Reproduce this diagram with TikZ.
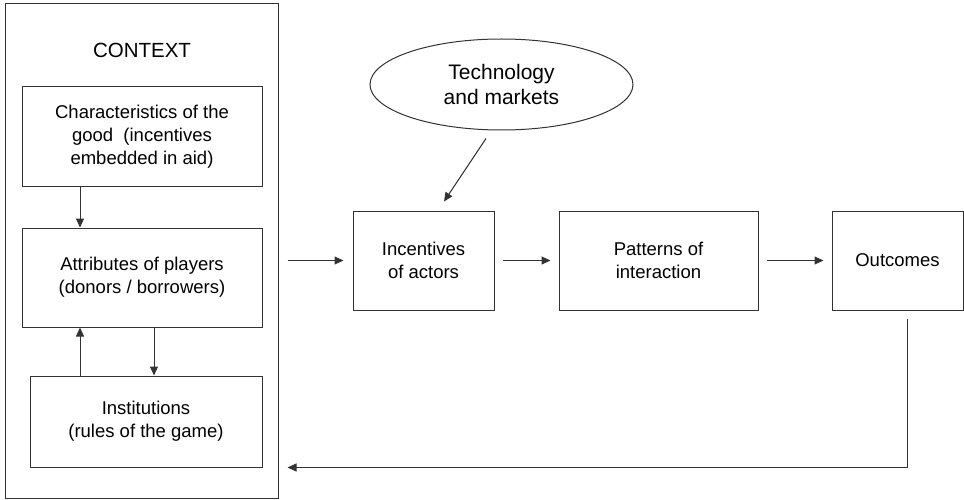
\documentclass[tikz,border=0pt]{standalone}
\usepackage{fontspec}
\setmainfont{Liberation Sans}
\usepackage{tikz}
\usetikzlibrary{arrows.meta,shapes.geometric}

\begin{document}
\begin{tikzpicture}[x=1pt, y=-1pt, line width=1pt, draw=black!80,
  box/.style={draw, rectangle, inner sep=0pt, align=center, font=\fontsize{18.5}{23}\selectfont},
  ->/.style={-{Triangle[length=9pt,width=8pt]}}]
  \useasboundingbox (0,0) rectangle (964,500);

  % left panel
  \node[draw, inner sep=0pt, minimum width=273, minimum height=494] (ctx) at (141.5,251) {};
  \node[font=\fontsize{20.5}{24}\selectfont] (ctxlbl) at (142,50) {CONTEXT};
  \node[box, minimum width=240, minimum height=99] (good) at (142,136.5)
    {Characteristics of the\\good\ \ (incentives\\embedded in aid)};
  \node[box, minimum width=240, minimum height=99] (players) at (142,277.5)
    {Attributes of players\\(donors / borrowers)};
  \node[box, minimum width=232, minimum height=91] (inst) at (146,421.5)
    {Institutions\\(rules of the game)};

  % main chain
  \node[box, ellipse, minimum width=263, minimum height=91, font=\fontsize{21}{25}\selectfont]
    (tech) at (501.5,84.5) {Technology\\and markets};
  \node[box, minimum width=141, minimum height=99] (incent) at (423.5,260.5)
    {Incentives\\of actors};
  \node[box, minimum width=199, minimum height=99] (patt) at (658.5,260.5)
    {Patterns of\\interaction};
  \node[box, minimum width=131, minimum height=99] (outc) at (897.5,260.5)
    {Outcomes};

  \draw[->] ([xshift=-62pt]good.south) -- ([xshift=-62pt]players.north);
  \draw[->] ([xshift=-66pt]inst.north) -- ([xshift=-62pt]players.south);
  \draw[->] ([xshift=12pt]players.south) -- ([xshift=8pt]inst.north);

  \draw[->, shorten <=9pt, shorten >=9pt] (ctx.east |- incent.west) -- (incent.west);
  \draw[->, shorten <=8pt, shorten >=8pt] (incent) -- (patt);
  \draw[->, shorten <=8pt, shorten >=8pt] (patt) -- (outc);
  \draw[->] ([xshift=-15.5pt,yshift=-8pt]tech.south) -- ([xshift=20.5pt,yshift=9pt]incent.north);

  % feedback
  \coordinate (fbend) at ([xshift=9pt]ctx.east |- inst.south);
  \draw[->] ([xshift=9.5pt,yshift=-8pt]outc.south) |- (fbend);
\end{tikzpicture}
\end{document}
